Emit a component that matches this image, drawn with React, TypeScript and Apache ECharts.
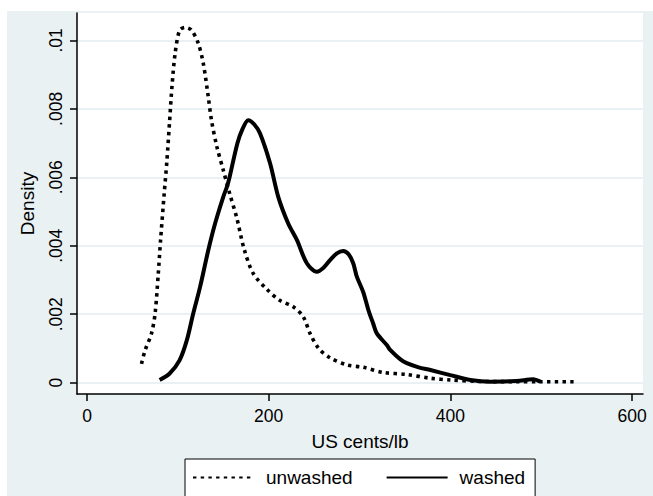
import React, { useEffect, useRef } from "react";
import * as echarts from "echarts";

const unwashedX = [60, 64, 71, 75, 78.5, 81, 85, 88, 91, 93.5, 97, 102, 108, 115, 122.5, 128, 133.5, 137, 143, 150, 157, 165, 173, 183, 198, 212, 227, 238, 245.5, 255, 267.5, 286, 304, 326, 352, 378, 400, 430, 470, 500, 540];
const unwashedY = [0.00055, 0.00095, 0.00144, 0.00203, 0.0032, 0.00417, 0.00553, 0.0065, 0.00767, 0.00864, 0.00962, 0.0103, 0.01038, 0.0103, 0.00991, 0.00933, 0.00835, 0.00767, 0.00689, 0.00621, 0.00553, 0.0048, 0.0039, 0.00319, 0.00273, 0.00241, 0.00222, 0.00193, 0.00144, 0.001, 0.00073, 0.00052, 0.00045, 0.0003, 0.00024, 0.00013, 0.00008, 0.00004, 0.00003, 0.00003, 0.00003];

const washedX = [80, 91, 102, 110, 117, 124.5, 133.5, 141, 150, 154, 157, 165.5, 171, 177.5, 184, 190.5, 201.5, 210.5, 221.5, 231, 242, 253, 260, 267.5, 275, 282, 288, 293, 297, 304, 310, 315, 319, 330, 334, 345, 352, 365, 378, 400, 422, 444, 473, 491, 499];
const washedY = [0.00008, 0.00027, 0.00066, 0.00125, 0.00203, 0.0028, 0.00387, 0.00465, 0.00543, 0.00572, 0.00601, 0.00699, 0.0074, 0.00767, 0.00755, 0.00728, 0.00641, 0.00543, 0.00465, 0.00417, 0.00349, 0.00324, 0.00335, 0.00358, 0.00378, 0.00385, 0.00375, 0.00349, 0.0031, 0.00265, 0.0021, 0.00173, 0.00144, 0.0011, 0.00095, 0.00068, 0.00057, 0.00045, 0.00037, 0.00022, 0.00008, 0.00003, 0.00005, 0.0001, 0.00003];

const xTicks = [0, 200, 400, 600];
const yTicks = [0, 0.002, 0.004, 0.006, 0.008, 0.01];
const yTickLabels = ["0", ".002", ".004", ".006", ".008", ".01"];

const seriesNames = ["unwashed", "washed"];

const FONT = "'Liberation Sans', Arial, Helvetica, sans-serif";

export default function App() {
  const ref = useRef<HTMLDivElement>(null);
  useEffect(() => {
    if (!ref.current) return;
    const chart = echarts.init(ref.current, null, { renderer: "svg" });
    const pair = (xs: number[], ys: number[]) => xs.map((x, i) => [x, ys[i]]);
    chart.setOption({
      animation: false,
      backgroundColor: "#eaf1f3",
      textStyle: { fontFamily: FONT },
      grid: {
        left: 70,
        top: 2,
        right: 10,
        bottom: 102,
        show: true,
        backgroundColor: "#ffffff",
        borderWidth: 0,
        containLabel: false,
      },
      xAxis: {
        type: "value",
        min: -11,
        max: 612,
        name: "US cents/lb",
        nameLocation: "middle",
        nameGap: 38,
        nameTextStyle: { fontSize: 19, color: "#000", fontFamily: FONT },
        axisLine: { show: true, onZero: false, lineStyle: { color: "#000", width: 1.5 } },
        axisTick: { show: true, length: 7, customValues: xTicks, lineStyle: { color: "#000", width: 1.5 } },
        axisLabel: { customValues: xTicks, fontSize: 17.5, color: "#000", margin: 13, fontFamily: FONT },
        splitLine: { show: false },
      },
      yAxis: {
        type: "value",
        min: -0.00033,
        max: 0.0108,
        name: "Density",
        nameLocation: "middle",
        nameGap: 40,
        nameTextStyle: { fontSize: 19, color: "#000", fontFamily: FONT },
        axisLine: { show: true, onZero: false, lineStyle: { color: "#000", width: 1.5 } },
        axisTick: { show: true, length: 7, customValues: yTicks, lineStyle: { color: "#000", width: 1.5 } },
        axisLabel: {
          customValues: yTicks,
          rotate: 90,
          fontSize: 17.5,
          color: "#000",
          margin: 12,
          fontFamily: FONT,
          formatter: (v: number) => {
            const i = yTicks.findIndex((t) => Math.abs(t - v) < 1e-9);
            return i >= 0 ? yTickLabels[i] : "";
          },
        },
        splitLine: { show: true, lineStyle: { color: "#e3ecf0", width: 1.5 } },
      },
      legend: {
        left: 178,
        top: 448,
        orient: "horizontal",
        backgroundColor: "#ffffff",
        borderColor: "#000",
        borderWidth: 1,
        borderRadius: 0,
        padding: [9, 10, 12, 7],
        itemWidth: 61,
        itemHeight: 14,
        itemGap: 33,
        itemStyle: { opacity: 0 },
        textStyle: { fontSize: 19, color: "#000", fontFamily: FONT, padding: [0, 0, 0, 7] },
        data: seriesNames,
      },
      series: [
        {
          name: seriesNames[0],
          type: "line",
          data: pair(unwashedX, unwashedY),
          smooth: 0.3,
          showSymbol: false,
          symbol: "none",
          lineStyle: { color: "#000", width: 3.6, type: [3.4, 4.3], cap: "butt" },
          itemStyle: { color: "#000" },
        },
        {
          name: seriesNames[1],
          type: "line",
          data: pair(washedX, washedY),
          smooth: 0.3,
          showSymbol: false,
          symbol: "none",
          lineStyle: { color: "#000", width: 4, type: "solid" },
          itemStyle: { color: "#000" },
        },
      ],
    });
    return () => chart.dispose();
  }, []);
  return (
    <div
      ref={ref}
      style={{ position: "fixed", left: 7, top: 11, width: 646, height: 485 }}
    />
  );
}
